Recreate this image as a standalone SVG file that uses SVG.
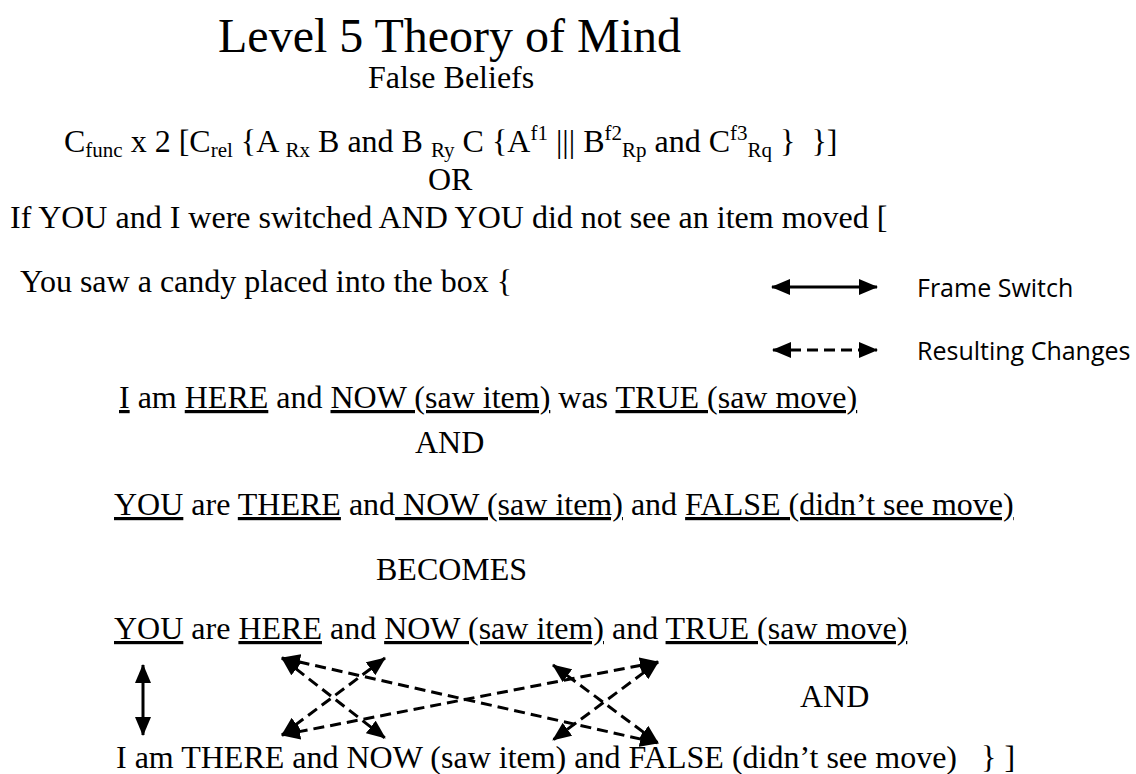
<svg xmlns="http://www.w3.org/2000/svg" width="1136" height="774" viewBox="0 0 1136 774">
<defs>
<style>
text { font-family: "Liberation Serif", "Times New Roman", serif; font-size: 32px; fill: #000; }
.title { font-size: 48px; }
.legend { font-family: "Open Sans", "Liberation Sans", sans-serif; font-size: 25px; }
.u { text-decoration: underline; }
.s { font-size: 21px; }
.solid { stroke: #000; stroke-width: 3; fill: none; marker-start: url(#ah); marker-end: url(#ah); }
.dash { stroke: #000; stroke-width: 3; fill: none; stroke-dasharray: 11 6; marker-start: url(#ah); marker-end: url(#ah); }
</style>
<marker id="ah" markerUnits="userSpaceOnUse" markerWidth="19" markerHeight="16" refX="18" refY="8" orient="auto-start-reverse" viewBox="0 0 19 16"><path d="M0,0 L19,8 L0,16 z" fill="#000"/></marker>
</defs>
<rect width="1136" height="774" fill="#fff"/>
<g id="title"><text class="title" x="218" y="52">Level 5 Theory of Mind</text></g>
<g id="subtitle"><text x="368" y="88">False Beliefs</text></g>
<g id="formula"><text x="64" y="152" xml:space="preserve">C<tspan class="s" dy="5">func</tspan><tspan dy="-5"> x 2 [C</tspan><tspan class="s" dy="5">rel</tspan><tspan dy="-5"> {A </tspan><tspan class="s" dy="5">Rx</tspan><tspan dy="-5"> B and B </tspan><tspan class="s" dy="5">Ry</tspan><tspan dy="-5"> C {A</tspan><tspan class="s" dy="-12">f1</tspan><tspan dy="12"> ||| B</tspan><tspan class="s" dy="-12">f2</tspan><tspan class="s" dy="17">Rp</tspan><tspan dy="-5"> and C</tspan><tspan class="s" dy="-12">f3</tspan><tspan class="s" dy="17">Rq</tspan><tspan dy="-5"> }  }]</tspan></text></g>
<g id="or"><text x="428" y="190">OR</text></g>
<g id="premise"><text x="10" y="228">If YOU and I were switched AND YOU did not see an item moved [</text></g>
<g id="candy"><text x="20" y="292">You saw a candy placed into the box {</text></g>
<g id="legend-frame"><text class="legend" x="917" y="297">Frame Switch</text></g>
<g id="legend-result"><text class="legend" x="917" y="360">Resulting Changes</text></g>
<g id="line-i-here"><text x="119" y="408"><tspan class="u">I</tspan> am <tspan class="u">HERE</tspan> and <tspan class="u">NOW (saw item)</tspan> was <tspan class="u">TRUE (saw move)</tspan></text></g>
<g id="and-1"><text x="415" y="453">AND</text></g>
<g id="line-you-there"><text x="114" y="515"><tspan class="u">YOU</tspan> are <tspan class="u">THERE</tspan> and<tspan class="u"> NOW (saw item)</tspan> and <tspan class="u">FALSE (didn’t see move)</tspan></text></g>
<g id="becomes"><text x="376" y="580">BECOMES</text></g>
<g id="line-you-here"><text x="114" y="639"><tspan class="u">YOU</tspan> are <tspan class="u">HERE</tspan> and <tspan class="u">NOW (saw item)</tspan> and <tspan class="u">TRUE (saw move)</tspan></text></g>
<g id="and-2"><text x="800" y="707">AND</text></g>
<g id="line-i-there"><text x="116" y="768" xml:space="preserve">I am THERE and NOW (saw item) and FALSE (didn’t see move)   } ]</text></g>
<g id="connectors">
<path class="solid" d="M772,287 L877,287"/>
<path class="dash" d="M773,350 L877,350"/>
<path class="solid" d="M143,665 L143,735"/>
<path class="dash" d="M282,658 L385,738"/>
<path class="dash" d="M282,658 L658,743"/>
<path class="dash" d="M385,658 L282,735"/>
<path class="dash" d="M658,662 L282,735"/>
<path class="dash" d="M553,665 L658,743"/>
<path class="dash" d="M658,662 L553,740"/>
</g>
</svg>
